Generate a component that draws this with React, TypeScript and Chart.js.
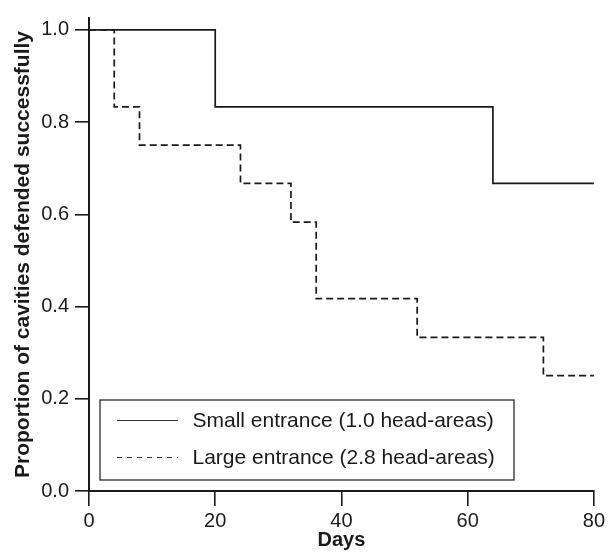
import React, { useEffect, useRef } from "react";
import { Chart, registerables } from "chart.js";

Chart.register(...registerables);

// Kaplan–Meier style step data (proportion of cavities defended successfully)
const smallDays = [0, 20, 64, 80];
const smallProp = [1.0, 0.833, 0.667, 0.667];
const largeDays = [0, 4, 8, 24, 32, 36, 52, 72, 80];
const largeProp = [1.0, 0.833, 0.75, 0.667, 0.583, 0.417, 0.333, 0.25, 0.25];

const seriesLabels = [
  "Small entrance (1.0 head-areas)",
  "Large entrance (2.8 head-areas)",
];
const xTickValues = [0, 20, 40, 60, 80];
const yTickValues = [0, 0.2, 0.4, 0.6, 0.8, 1.0];
const xTitle = "Days";
const yTitle = "Proportion of cavities defended successfully";

const FONT = '"Liberation Sans", Arial, Helvetica, sans-serif';
const INK = "#1a1a1a";

const boxedLegend = {
  id: "boxedLegend",
  afterDatasetsDraw(chart: any) {
    const { ctx, chartArea } = chart;
    const left = chartArea.left + 11;
    const right = left + 414;
    const bottom = chartArea.bottom - 11;
    const top = bottom - 80;
    ctx.save();
    ctx.fillStyle = "#ffffff";
    ctx.fillRect(left, top, right - left, bottom - top);
    ctx.strokeStyle = INK;
    ctx.lineWidth = 1.2;
    ctx.setLineDash([]);
    ctx.strokeRect(left, top, right - left, bottom - top);
    chart.data.datasets.forEach((ds: any, i: number) => {
      const y = top + 20.5 + i * 37;
      ctx.beginPath();
      ctx.setLineDash(i === 1 ? [5, 5] : []);
      ctx.lineWidth = 1;
      ctx.strokeStyle = "#333";
      ctx.moveTo(left + 17, y);
      ctx.lineTo(left + 78, y);
      ctx.stroke();
      ctx.setLineDash([]);
      ctx.fillStyle = INK;
      ctx.font = `21px ${FONT}`;
      ctx.textBaseline = "middle";
      ctx.textAlign = "left";
      ctx.fillText(ds.label, left + 92.5, y + 1);
    });
    ctx.restore();
  },
};

export default function App() {
  const ref = useRef<HTMLCanvasElement | null>(null);

  useEffect(() => {
    if (!ref.current) return;
    const chart = new Chart(ref.current, {
      type: "line",
      data: {
        datasets: [
          {
            label: seriesLabels[0],
            data: smallDays.map((d, i) => ({ x: d, y: smallProp[i] })),
            borderColor: INK,
            borderWidth: 1.7,
            stepped: true,
            pointRadius: 0,
            fill: false,
          },
          {
            label: seriesLabels[1],
            data: largeDays.map((d, i) => ({ x: d, y: largeProp[i] })),
            borderColor: INK,
            borderWidth: 1.7,
            borderDash: [7, 4],
            stepped: true,
            pointRadius: 0,
            fill: false,
          },
        ],
      },
      options: {
        animation: false,
        responsive: false,
        maintainAspectRatio: false,
        layout: { padding: { left: 0, right: 12, top: 12, bottom: 0 } },
        plugins: {
          legend: { display: false },
          tooltip: { enabled: false },
        },
        scales: {
          x: {
            type: "linear",
            min: 0,
            max: 80,
            afterBuildTicks: (s: any) => {
              s.ticks = xTickValues.map((v) => ({ value: v }));
            },
            afterFit: (s: any) => {
              s.height = 61;
            },
            ticks: {
              color: INK,
              font: { family: FONT, size: 20 },
              padding: 3,
              maxRotation: 0,
              callback: (v: any) => String(v),
            },
            grid: {
              drawOnChartArea: false,
              drawTicks: true,
              tickLength: 15,
              color: INK,
              lineWidth: 1.6,
            },
            border: { display: true, color: INK, width: 2 },
            title: {
              display: true,
              text: xTitle,
              color: INK,
              font: { family: FONT, size: 20, weight: "bold" },
              padding: { top: 0, bottom: 0 },
            },
          },
          y: {
            type: "linear",
            min: 0,
            max: 1.0257,
            afterBuildTicks: (s: any) => {
              s.ticks = yTickValues.map((v) => ({ value: v }));
            },
            afterFit: (s: any) => {
              s.width = 89;
            },
            ticks: {
              color: INK,
              font: { family: FONT, size: 20 },
              padding: 6,
              callback: (v: any) => Number(v).toFixed(1),
            },
            grid: {
              drawOnChartArea: false,
              drawTicks: true,
              tickLength: 14,
              color: INK,
              lineWidth: 1.6,
            },
            border: { display: true, color: INK, width: 2 },
            title: {
              display: true,
              text: yTitle,
              color: INK,
              font: { family: FONT, size: 21, weight: "bold" },
              padding: { top: 11, bottom: 0 },
            },
          },
        },
      },
      plugins: [boxedLegend],
    });
    return () => chart.destroy();
  }, []);

  return (
    <div style={{ position: "absolute", left: 0, top: 0, width: 608, height: 552, background: "#fff" }}>
      <canvas ref={ref} width={608} height={552} style={{ width: 608, height: 552, display: "block" }} />
    </div>
  );
}
